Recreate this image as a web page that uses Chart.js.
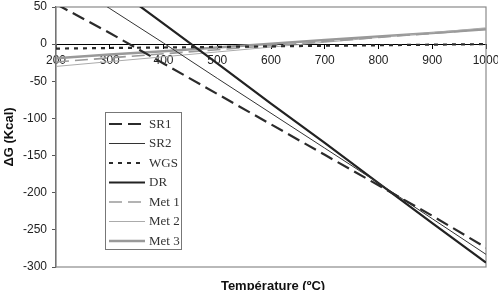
<!DOCTYPE html>
<html>
<head>
<meta charset="utf-8">
<script src="https://cdn.jsdelivr.net/npm/chart.js@4/dist/chart.umd.min.js"></script>
<style>
html,body{margin:0;padding:0;background:#fff;}
canvas{display:block;}
</style>
</head>
<body>
<canvas id="c" width="498" height="290"></canvas>
<script>
const temperatures = [200, 300, 400, 500, 600, 700, 800, 900, 1000];
const sr1  = [54, 15, -26, -67, -108, -149, -190, -231, -274];
const sr2  = [95, 48, 1.5, -46, -93, -140, -187, -235, -283];
const wgs  = [-6, -5.2, -4.5, -3.7, -3, -2.2, -1.5, -0.7, 0];
const dr   = [135, 81, 27.5, -26, -80, -133, -187, -241, -294];
const met1 = [-24, -18.5, -13, -7.5, -2, 3.5, 9, 14.5, 20];
const met2 = [-30, -23.5, -17, -10.5, -4, 2.5, 9, 15.5, 22];
const met3 = [-19, -14, -9.5, -4.5, 0.5, 5.5, 10.5, 15, 20];
const seriesNames = ['SR1', 'SR2', 'WGS', 'DR', 'Met 1', 'Met 2', 'Met 3'];
const yTitle = 'ΔG (Kcal)';
const xTitle = 'Température (ºC)';

const toXY = arr => arr.map((v, i) => ({x: temperatures[i], y: v}));

const styles = [
  {color: '#2b2b2b', width: 2.2, dash: [13, 6]},
  {color: '#333333', width: 1, dash: []},
  {color: '#2b2b2b', width: 2.2, dash: [4, 5]},
  {color: '#222222', width: 2.2, dash: []},
  {color: '#9a9a9a', width: 1.6, dash: [13, 6]},
  {color: '#ababab', width: 1, dash: []},
  {color: '#999999', width: 2.4, dash: []}
];
const values = [sr1, sr2, wgs, dr, met1, met2, met3];

const datasets = values.map((v, i) => ({
  label: seriesNames[i],
  data: toXY(v),
  borderColor: styles[i].color,
  borderWidth: styles[i].width,
  borderDash: styles[i].dash,
  pointRadius: 0,
  tension: 0,
  fill: false
}));

const frame = {
  id: 'frame',
  beforeDatasetsDraw(chart) {
    const {ctx, chartArea: a} = chart;
    ctx.save();
    ctx.strokeStyle = '#8a8a8a';
    ctx.lineWidth = 1.2;
    ctx.strokeRect(a.left, a.top, a.right - a.left, a.bottom - a.top);
    ctx.restore();
  }
};

const legendBox = {
  id: 'legendBox',
  afterDraw(chart) {
    const {ctx} = chart;
    const x0 = 105, y0 = 112, w = 76, h = 137;
    ctx.save();
    ctx.fillStyle = '#fff';
    ctx.fillRect(x0, y0, w, h);
    ctx.strokeStyle = '#777';
    ctx.lineWidth = 1;
    ctx.strokeRect(x0 + 0.5, y0 + 0.5, w, h);
    ctx.font = '13px "Liberation Serif", "Times New Roman", serif';
    ctx.textBaseline = 'middle';
    ctx.fillStyle = '#333';
    chart.data.datasets.forEach((ds, i) => {
      const y = 124 + i * 19.5;
      ctx.beginPath();
      ctx.strokeStyle = ds.borderColor;
      ctx.lineWidth = ds.borderWidth;
      ctx.setLineDash(ds.borderDash);
      ctx.moveTo(109, y);
      ctx.lineTo(145, y);
      ctx.stroke();
      ctx.setLineDash([]);
      ctx.fillText(ds.label, 149, y + 0.5);
    });
    ctx.font = 'bold 13px "Liberation Sans", Arial, sans-serif';
    ctx.fillStyle = '#111';
    ctx.textAlign = 'center';
    ctx.textBaseline = 'middle';
    const a = chart.chartArea;
    ctx.fillText(xTitle, (a.left + a.right) / 2 + 2, 286);
    ctx.restore();
  }
};

new Chart(document.getElementById('c'), {
  type: 'line',
  data: {datasets},
  options: {
    responsive: false,
    animation: false,
    devicePixelRatio: 1,
    layout: {padding: {top: 7, right: 12, bottom: 23, left: 0}},
    plugins: {legend: {display: false}, tooltip: {enabled: false}},
    scales: {
      x: {
        type: 'linear',
        min: 200, max: 1000,
        position: {y: 0},
        afterFit(s) { s.paddingLeft = 0; s.paddingRight = 0; },
        ticks: {stepSize: 100, color: '#222', padding: 5,
                callback: v => String(v),
                font: {family: '"Liberation Sans", Arial, sans-serif', size: 12}},
        grid: {drawOnChartArea: false, drawTicks: true, tickLength: 4, color: '#000'},
        border: {display: true, color: '#000', width: 1}
      },
      y: {
        type: 'linear',
        min: -300, max: 50,
        afterFit(s) { s.width = 56; s.paddingTop = 0; s.paddingBottom = 0; },
        ticks: {stepSize: 50, color: '#222', padding: 5,
                font: {family: '"Liberation Sans", Arial, sans-serif', size: 12}},
        grid: {drawOnChartArea: false, drawTicks: true, tickLength: 4, color: '#555'},
        border: {display: true, color: '#555', width: 1.2},
        title: {display: true, text: yTitle, color: '#111', padding: {top: 2, bottom: 0},
                font: {family: '"Liberation Sans", Arial, sans-serif', size: 13, weight: 'bold'}}
      }
    }
  },
  plugins: [frame, legendBox]
});
</script>
</body>
</html>
